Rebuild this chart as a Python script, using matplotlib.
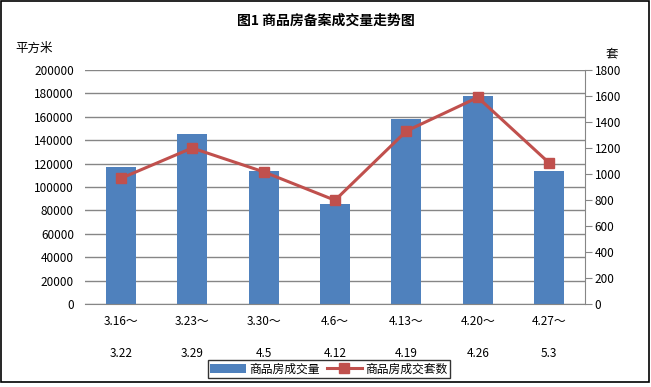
import matplotlib.pyplot as plt
from matplotlib.patches import Rectangle

plt.rcParams['font.family'] = ['Noto Sans CJK SC', 'DejaVu Sans']

# data
weeks_start = ['3.16～', '3.23～', '3.30～', '4.6～', '4.13～', '4.20～', '4.27～']
weeks_end = ['3.22', '3.29', '4.5', '4.12', '4.19', '4.26', '5.3']
area = [117300, 145000, 113300, 85800, 158500, 178000, 113300]   # 商品房成交量 (平方米)
units = [966, 1200, 1017, 798, 1331, 1589, 1084]                 # 商品房成交套数 (套)

bar_color = '#4F81BD'
line_color = '#C0504D'
grid_color = '#868686'

W, H = 651, 387
fig = plt.figure(figsize=(W / 100, H / 100), dpi=100)
fig.patches.append(Rectangle((0.002, 0.012), 0.995, 0.985, transform=fig.transFigure,
                             fill=False, edgecolor='black', linewidth=1.2))

# plot area in pixels: left 85, right 585, top 70, bottom 304
ax = fig.add_axes([85 / W, 1 - 304 / H, (585 - 85) / W, (304 - 70) / H])
x = list(range(len(area)))
bars = ax.bar(x, area, width=0.42, color=bar_color, label='商品房成交量', zorder=2)
ax.set_ylim(0, 200000)
ax.set_xlim(-0.5, len(area) - 0.5)
ax.set_yticks(range(0, 200001, 20000))
ax.yaxis.grid(True, color=grid_color, linewidth=1)
ax.set_axisbelow(True)
for s in ['top', 'right', 'left']:
    ax.spines[s].set_visible(False)
ax.spines['bottom'].set_color(grid_color)
ax.tick_params(axis='y', length=0, labelsize=8.5, pad=8)
ax.set_xticks(x)
ax.set_xticklabels([a + '\n\n' + b for a, b in zip(weeks_start, weeks_end)], fontsize=8.5,
                   linespacing=1.3)
ax.tick_params(axis='x', length=0, pad=8)

ax2 = ax.twinx()
line, = ax2.plot(x, units, color=line_color, linewidth=2.2, marker='s', markersize=7.5,
                 label='商品房成交套数', zorder=3)
ax2.set_ylim(0, 1800)
ax2.set_yticks(range(0, 1801, 200))
for s in ['top', 'left', 'bottom']:
    ax2.spines[s].set_visible(False)
ax2.spines['right'].set_color(grid_color)
ax2.tick_params(axis='y', length=5, color=grid_color, labelsize=8.5, pad=2)

fig.text(0.5, 1 - 21 / H, '图1 商品房备案成交量走势图', ha='center', va='center',
         fontsize=10, fontweight='bold')
fig.text(15 / W, 1 - 48 / H, '平方米', ha='left', va='center', fontsize=9)
fig.text(612 / W, 1 - 54 / H, '套', ha='center', va='center', fontsize=9)

leg = fig.legend([bars, line], ['商品房成交量', '商品房成交套数'], loc='center',
                 bbox_to_anchor=(329 / W, 1 - 369 / H), ncol=2, fontsize=8.5,
                 frameon=True, fancybox=False, edgecolor='black', borderpad=0.2,
                 handlelength=3, handletextpad=0.3, columnspacing=0.6, borderaxespad=0)
leg.get_frame().set_linewidth(1)

fig.savefig('out.png', dpi=100)
